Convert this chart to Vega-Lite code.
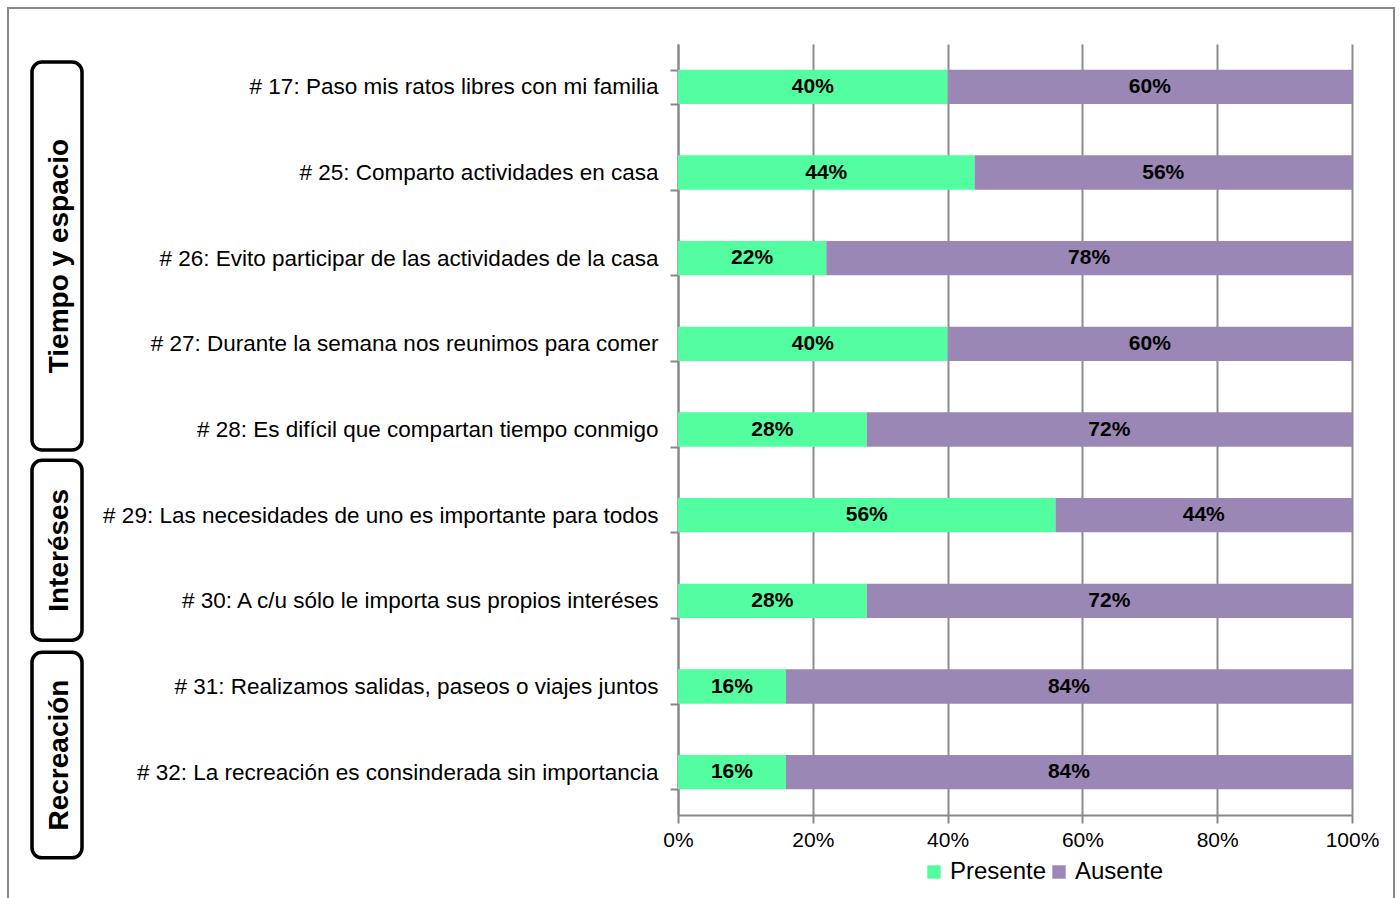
{
  "$schema": "https://vega.github.io/schema/vega-lite/v6.json",
  "padding": {"left": 7, "top": 7, "right": 4, "bottom": 0},
  "background": "white",
  "bounds": "flush",
  "spacing": 596,
  "config": {
    "view": {"stroke": null},
    "font": "Liberation Sans",
    "text": {"font": "Liberation Sans"}
  },
  "resolve": {"scale": {"color": "independent"}, "legend": {"color": "independent"}},
  "datasets": {
    "groups": [
      {"group": "Tiempo y espacio", "start": 0.21, "end": 4.74},
      {"group": "Interéses", "start": 4.86, "end": 6.96},
      {"group": "Recreación", "start": 7.1, "end": 9.5}
    ],
    "items": [
      {"item": "# 17: Paso mis ratos libres con mi familia", "serie": "Presente", "value": 0.40},
      {"item": "# 17: Paso mis ratos libres con mi familia", "serie": "Ausente", "value": 0.60},
      {"item": "# 25: Comparto actividades en casa", "serie": "Presente", "value": 0.44},
      {"item": "# 25: Comparto actividades en casa", "serie": "Ausente", "value": 0.56},
      {"item": "# 26: Evito participar de las actividades de la casa", "serie": "Presente", "value": 0.22},
      {"item": "# 26: Evito participar de las actividades de la casa", "serie": "Ausente", "value": 0.78},
      {"item": "# 27: Durante la semana nos reunimos para comer", "serie": "Presente", "value": 0.40},
      {"item": "# 27: Durante la semana nos reunimos para comer", "serie": "Ausente", "value": 0.60},
      {"item": "# 28: Es difícil que compartan tiempo conmigo", "serie": "Presente", "value": 0.28},
      {"item": "# 28: Es difícil que compartan tiempo conmigo", "serie": "Ausente", "value": 0.72},
      {"item": "# 29: Las necesidades de uno es importante para todos", "serie": "Presente", "value": 0.56},
      {"item": "# 29: Las necesidades de uno es importante para todos", "serie": "Ausente", "value": 0.44},
      {"item": "# 30: A c/u sólo le importa sus propios interéses", "serie": "Presente", "value": 0.28},
      {"item": "# 30: A c/u sólo le importa sus propios interéses", "serie": "Ausente", "value": 0.72},
      {"item": "# 31: Realizamos salidas, paseos o viajes juntos", "serie": "Presente", "value": 0.16},
      {"item": "# 31: Realizamos salidas, paseos o viajes juntos", "serie": "Ausente", "value": 0.84},
      {"item": "# 32: La recreación es consinderada sin importancia", "serie": "Presente", "value": 0.16},
      {"item": "# 32: La recreación es consinderada sin importancia", "serie": "Ausente", "value": 0.84}
    ]
  },
  "hconcat": [
    {
      "width": 50,
      "height": 771,
      "data": {"name": "groups"},
      "transform": [{"calculate": "(datum.start + datum.end) / 2", "as": "mid"}],
      "layer": [
        {
          "mark": {"type": "rect", "fill": "white", "stroke": "black", "strokeWidth": 3.5, "cornerRadius": 10, "clip": false},
          "encoding": {
            "x": {"datum": 0, "type": "quantitative", "scale": {"domain": [0, 1]}, "axis": null},
            "x2": {"datum": 1},
            "y": {"field": "start", "type": "quantitative", "scale": {"domain": [0, 9], "reverse": true, "zero": false, "nice": false}, "axis": null},
            "y2": {"field": "end"}
          }
        },
        {
          "mark": {"type": "text", "angle": 270, "align": "center", "baseline": "middle", "fontSize": 28, "fontWeight": "bold", "color": "black", "font": "Liberation Sans"},
          "encoding": {
            "x": {"datum": 0.56, "type": "quantitative"},
            "y": {"field": "mid", "type": "quantitative"},
            "text": {"field": "group"}
          }
        },
        {
          "mark": {"type": "rect", "filled": false, "stroke": "#888888", "strokeWidth": 2, "clip": false},
          "encoding": {
            "x": {"datum": -0.48, "type": "quantitative"},
            "x2": {"datum": 27.24},
            "y": {"datum": -0.42, "type": "quantitative"},
            "y2": {"datum": 10.6}
          }
        }
      ]
    },
    {
      "width": 674,
      "height": 771,
      "data": {"name": "items"},
      "transform": [
        {"stack": "value", "groupby": ["item"], "sort": [{"field": "serie", "order": "descending"}], "as": ["v0", "v1"]},
        {"calculate": "(datum.v0 + datum.v1) / 2", "as": "mid"}
      ],
      "encoding": {
        "y": {
          "field": "item", "type": "nominal", "sort": null,
          "scale": {"paddingInner": 0.6, "paddingOuter": 0.3},
          "axis": {
            "title": null, "labelFontSize": 22.5, "labelColor": "black", "labelFont": "Liberation Sans",
            "labelPadding": 12, "labelLimit": 700, "tickBand": "extent", "tickSize": 8,
            "tickColor": "#888888", "tickWidth": 2, "domainColor": "#888888", "domainWidth": 2, "grid": false
          }
        }
      },
      "layer": [
        {
          "mark": {"type": "bar"},
          "encoding": {
            "x": {
              "field": "v0", "type": "quantitative", "scale": {"domain": [0, 1], "nice": false},
              "axis": {
                "title": null, "format": ".0%", "values": [0, 0.2, 0.4, 0.6, 0.8, 1], "labelFlush": false,
                "labelFontSize": 21, "labelColor": "black", "labelFont": "Liberation Sans", "labelPadding": 6,
                "tickSize": 8, "tickColor": "#888888", "tickWidth": 2, "domainColor": "#888888", "domainWidth": 2,
                "grid": true, "gridColor": "#8c8c8c", "gridWidth": 2
              }
            },
            "x2": {"field": "v1"},
            "color": {
              "field": "serie", "type": "nominal",
              "scale": {"domain": ["Presente", "Ausente"], "range": ["#52FEA0", "#9B87B5"]},
              "legend": {
                "title": null, "orient": "none", "legendX": 244, "legendY": 816, "direction": "horizontal",
                "symbolType": "square", "symbolSize": 180, "symbolStrokeWidth": 0, "symbolOpacity": 1,
                "labelFontSize": 24, "labelColor": "black", "labelFont": "Liberation Sans",
                "labelOffset": 4, "columnPadding": -5
              }
            }
          }
        },
        {
          "mark": {"type": "text", "fontSize": 21, "fontWeight": "bold", "color": "black", "font": "Liberation Sans", "baseline": "middle", "align": "center"},
          "encoding": {
            "x": {"field": "mid", "type": "quantitative"},
            "text": {"field": "value", "type": "quantitative", "format": ".0%"}
          }
        }
      ]
    }
  ]
}
